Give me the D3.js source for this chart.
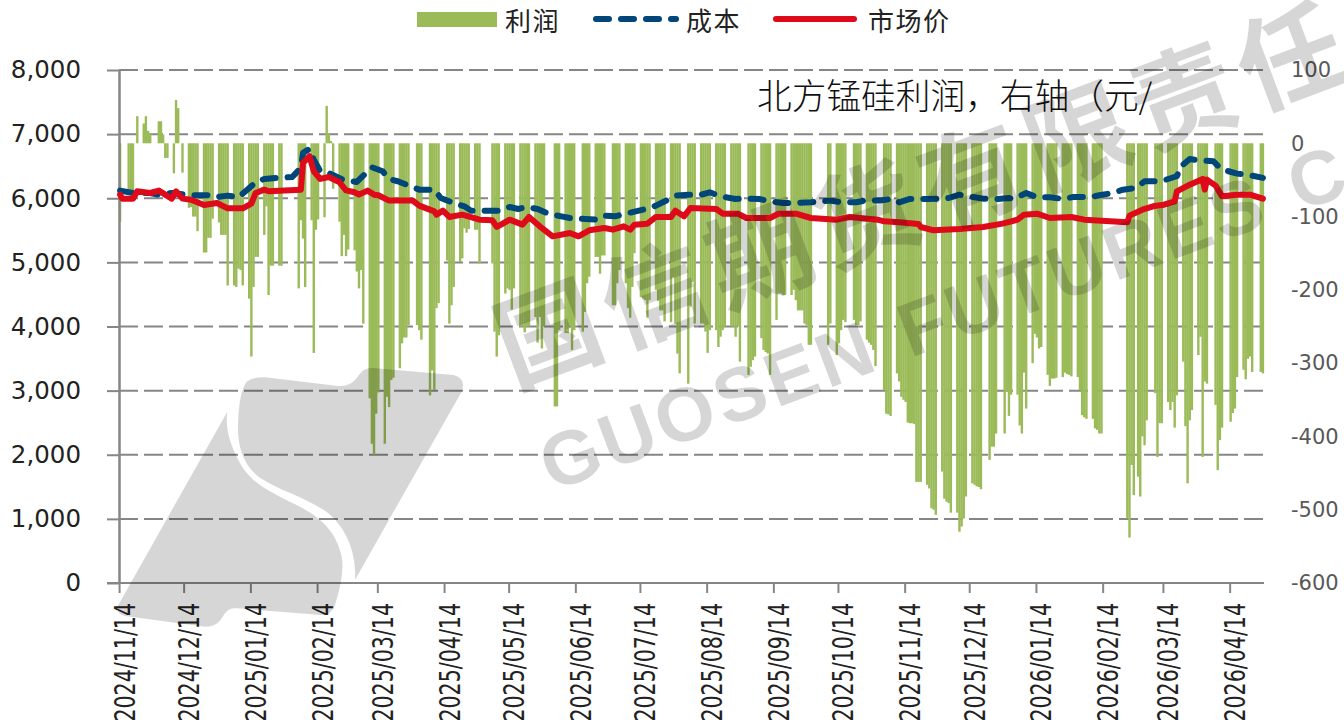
<!DOCTYPE html>
<html>
<head>
<meta charset="utf-8">
<script src="https://cdn.jsdelivr.net/npm/d3@7"></script>
<style>
  body { margin: 0; background: #fff; }
  svg { display: block; }
</style>
</head>
<body>
<script>
const _ = null // no bar that day

const startDate = '2024-11-14'
const tickLabels = ['2024/11/14', '2024/12/14', '2025/01/14', '2025/02/14', '2025/03/14', '2025/04/14',
    '2025/05/14', '2025/06/14', '2025/07/14', '2025/08/14', '2025/09/14', '2025/10/14', '2025/11/14',
    '2025/12/14', '2026/01/14', '2026/02/14', '2026/03/14', '2026/04/14']
const leftTicks = [0, 1000, 2000, 3000, 4000, 5000, 6000, 7000, 8000]
const rightTicks = [-600, -500, -400, -300, -200, -100, 0, 100]

// profit, one entry per calendar day from startDate (first row runs Thu-Sun, then Mon-Sun)
const profit = [
    -107, _, _, _,
    -64, -64, -64, _, 37, _, _,
    27, 37, 17, 14, _, _, _,
    30, 30, 12, -20, -20, _, _,
    -41, 59, 48, _, -40, _, _,
    -88, -87, -100, -100, -120, _, _,
    -149, -149, -129, -129, -103, _, _,
    -108, -125, -125, -125, -194, _, _,
    -194, -196, -171, -173, -194, _, _,
    -212, -291, -196, -155, -155, _, _,
    -125, -86, -207, -167, -167, _, _,
    -167, -167, _, _, _, _, _,
    _, _, -198, -105, -130, -196, _,
    _, -105, -286, -118, -104, _, _,
    -101, 51, 14, 3, -62, _, _,
    -107, -154, -125, -154, -145, _, _,
    -146, -175, -198, -173, -246, _, _,
    -348, -410, -425, -369, -340, _, _,
    -410, -346, -360, -323, -320, _, _,
    -307, -273, -265, -265, -248, _, _,
    _, -248, -255, -268, _, _, _,
    -344, -310, -337, -225, -218, _, _,
    _, -160, -246, -221, -196, _, _,
    -162, -157, -116, -122, -117, _, _,
    -118, -118, -164, _, _, _, _,
    _, -164, -257, -291, -262, _, _,
    -205, -198, -200, -227, -198, _, _,
    -250, -250, -258, -250, -250, _, _,
    -237, -272, -237, -280, -250, _, _,
    _, _, -359, -359, -255, _, _,
    -259, -259, -250, -282, -255, _, _,
    _, -257, -230, -191, -182, _, _,
    -155, -155, -178, -153, -153, _, _,
    _, -221, -221, -191, -173, _, _,
    -191, -225, -238, -196, -150, _, _,
    -210, -212, -214, -238, -214, _, _,
    -200, -215, -228, -228, -243, _, _,
    -244, -183, -246, -287, -314, _, _,
    _, -328, -223, -189, -246, _, _,
    -246, -246, -257, -286, -255, _, _,
    -255, -278, -264, -255, -250, _, _,
    -250, -250, -264, -250, -298, _, _,
    _, -316, -305, -296, -291, _, _,
    -266, -282, -285, -287, -316, _, _,
    -241, -205, -205, -207, -207, _, _,
    -207, -200, -214, -228, -228, -228, -246,
    -248, -275, -275, _, _, _, _,
    _, _, _, -275, -246, _, _,
    -289, -273, -255, -241, -244, _, _,
    _, -241, -248, -248, -243, _, _,
    -268, -272, -275, -282, -304, _, _,
    _, -337, -369, -370, -372, _, _,
    -314, -325, -346, -350, -353, -381, -382,
    -382, -383, -462, -462, -462, _, _,
    -466, -471, -498, -500, -507, _, _,
    -448, -485, -489, -491, -504, _, _,
    -504, -530, -523, -512, -482, _, _,
    -464, -466, -468, -469, -472, _, _,
    _, -432, -414, -414, -396, _, _,
    _, -396, -339, -372, -343, _, _,
    -343, -385, -396, -313, -362, _, _,
    -300, -260, -265, -280, -278, _, _,
    -316, -331, -321, -321, -320, _, _,
    -319, -313, -315, -316, -318, _, _,
    -319, -337, -371, -374, -376, _, _,
    -376, -389, -391, -396, -396, _, _,
    _, _, _, _, _, _, _,
    _, _, -512, -538, -439, -480, _,
    -455, -482, -400, -412, -378, _, _,
    _, -341, -428, -382, -382, _, _,
    -353, -364, -353, -388, -344, _, _,
    -298, -386, -464, -378, -364, _, _,
    -289, -264, -428, -325, -328, _, _,
    _, -357, -446, -405, -388, _, _,
    _, -380, -368, -362, -319, _, _,
    -309, -322, -294, -291, -312, _, _,
    _, -312, -314
]

// line readings, day = days since startDate
const costDays = [0, 6, 14, 18, 24, 33, 41, 44, 50, 55, 60, 63, 67, 73, 80, 84, 85, 88, 90, 93, 97, 104, 110, 117, 122,
    125, 129, 135, 139, 146, 149, 155, 160, 163, 176, 181, 185, 189, 194, 199, 205, 209, 216, 221, 225, 230, 235, 245,
    249, 254, 258, 264, 269, 274, 279, 286, 290, 297, 302, 308, 313, 321, 330, 335, 342, 346, 353, 359, 362, 367, 376,
    380, 385, 390, 397, 401, 408, 413, 415, 417, 421, 426, 432, 438, 443, 451, 455, 461, 466, 472, 476, 482, 486, 491,
    493, 497, 501, 508, 511, 515, 519, 525, 531]
const cost = [6119, 6082, 6082, 6056, 6082, 6046, 6046, 6015, 6041, 6015, 6160, 6249, 6301, 6317, 6332, 6473, 6707, 6769,
    6603, 6421, 6395, 6280, 6254, 6483, 6421, 6301, 6265, 6187, 6134, 6134, 6004, 5926, 5874, 5807, 5807, 5864, 5833,
    5864, 5833, 5760, 5718, 5692, 5677, 5666, 5729, 5718, 5760, 5838, 5885, 5968, 6041, 6056, 6046, 6093, 6030, 5989,
    5994, 5989, 5952, 5926, 5926, 5937, 5963, 5937, 5937, 5963, 5963, 5994, 5937, 5989, 5989, 5994, 6004, 6056, 6015,
    5994, 5989, 6004, 5989, 6020, 6082, 6015, 6015, 5989, 6020, 6020, 6046, 6082, 6134, 6160, 6265, 6265, 6291, 6343,
    6499, 6613, 6592, 6577, 6473, 6421, 6384, 6358, 6317]

const marketDays = [0, 1, 6, 8, 14, 18, 24, 26, 29, 33, 39, 45, 50, 57, 61, 63, 67, 69, 84, 85, 88, 90, 93, 97, 102, 105,
    109, 111, 115, 118, 120, 125, 136, 139, 146, 147, 150, 153, 159, 167, 173, 175, 177, 181, 187, 190, 195, 201, 209,
    213, 218, 225, 229, 234, 237, 239, 245, 249, 256, 258, 262, 265, 277, 280, 287, 291, 302, 306, 314, 321, 333, 339,
    352, 355, 362, 371, 372, 378, 390, 401, 410, 417, 420, 426, 432, 442, 448, 468, 469, 475, 480, 485, 490, 491, 497,
    503, 504, 505, 509, 512, 519, 525, 531]
const market = [6056, 5994, 5994, 6108, 6082, 6119, 5994, 6108, 5994, 5978, 5895, 5926, 5843, 5843, 5916, 6082, 6134, 6108,
    6134, 6551, 6655, 6421, 6301, 6332, 6249, 6124, 6093, 6056, 6119, 6056, 6046, 5963, 5963, 5885, 5796, 5744, 5807,
    5708, 5744, 5666, 5656, 5552, 5588, 5666, 5588, 5708, 5562, 5406, 5458, 5406, 5500, 5536, 5510, 5562, 5510, 5588,
    5604, 5708, 5708, 5807, 5718, 5848, 5833, 5760, 5760, 5692, 5692, 5760, 5760, 5692, 5666, 5708, 5666, 5640, 5625,
    5599, 5552, 5500, 5521, 5552, 5604, 5666, 5744, 5760, 5692, 5708, 5666, 5625, 5729, 5822, 5874, 5900, 5952, 6108,
    6212, 6301, 6134, 6290, 6197, 6030, 6056, 6056, 5994]

const legendNames = ['利润', '成本', '市场价']

const green = '#9BBB59'
const navy = '#004678'
const red = '#DE0A1A'
const gridGray = '#868686'
const cjk = '"Noto Sans CJK SC", sans-serif'
const latin = '"DejaVu Sans", sans-serif'

const margin = {left: 119, right: 1264, top: 70, bottom: 583}

const svg = d3.select('body').append('svg')
    .attr('width', 1344)
    .attr('height', 726)

const start = new Date(startDate + 'T00:00:00Z')
const dayDate = i => d3.utcDay.offset(start, i)

const x = d3.scaleUtc()
    .domain([d3.utcHour.offset(start, -12), d3.utcHour.offset(dayDate(532), -12)])
    .range([margin.left, margin.right])

const yLeft = d3.scaleLinear().domain([0, 8000]).range([margin.bottom, margin.top])
const yRight = d3.scaleLinear().domain([-600, 100]).range([margin.bottom, margin.top])

// gridlines sit behind the bars
svg.append('g').attr('class', 'grid')
    .selectAll('line')
    .data(leftTicks.filter(d => d > 0))
    .join('line')
    .attr('x1', margin.left)
    .attr('x2', margin.right)
    .attr('y1', d => yLeft(d))
    .attr('y2', d => yLeft(d))
    .attr('stroke', gridGray)
    .attr('stroke-width', 2)
    .attr('stroke-dasharray', '19 6')

// profit bars, right axis
const barDays = profit.map((v, i) => ({day: dayDate(i), v})).filter(d => d.v !== null)
svg.append('g').attr('class', 'bars')
    .selectAll('rect')
    .data(barDays)
    .join('rect')
    .attr('x', d => x(d.day) - 1.2)
    .attr('width', 2.4)
    .attr('y', d => Math.min(yRight(0), yRight(d.v)))
    .attr('height', d => Math.abs(yRight(d.v) - yRight(0)))
    .attr('fill', green)

// left axis
const leftAxis = svg.append('g')
    .attr('transform', `translate(${margin.left},0)`)
    .call(d3.axisLeft(yLeft).tickValues(leftTicks).tickFormat(d3.format(',')).tickSize(12).tickSizeOuter(0).tickPadding(26))
leftAxis.selectAll('line').attr('stroke', gridGray).attr('stroke-width', 2)
leftAxis.select('.domain').attr('stroke', gridGray).attr('stroke-width', 2.5)
leftAxis.selectAll('text')
    .attr('font-family', latin)
    .attr('font-size', 24.5)
    .attr('fill', '#222')

// right axis has labels only
const rightAxis = svg.append('g')
    .attr('transform', `translate(1291,0)`)
    .call(d3.axisRight(yRight).tickValues(rightTicks).tickSize(0).tickPadding(0).tickFormat(d => d3.format('d')(d).replace('−', '-')))
rightAxis.select('.domain').remove()
rightAxis.selectAll('text')
    .attr('font-family', latin)
    .attr('font-size', 21)
    .attr('fill', '#595959')

// bottom axis
const bottomAxis = svg.append('g')
    .attr('transform', `translate(-1,${margin.bottom})`)
    .call(d3.axisBottom(x)
        .tickValues(tickLabels.map(d => new Date(d.replace(/\//g, '-') + 'T00:00:00Z')))
        .tickFormat((d, i) => tickLabels[i])
        .tickSize(10)
        .tickSizeOuter(0))
bottomAxis.select('.domain').remove()
bottomAxis.selectAll('line').attr('stroke', gridGray).attr('stroke-width', 2)
bottomAxis.selectAll('text')
    .attr('font-family', latin)
    .attr('font-size', 29)
    .attr('fill', '#222')
    .attr('text-anchor', 'end')
    .attr('dy', 0)
    .attr('y', 0)
    .attr('transform', 'translate(15,20) rotate(-90) scale(0.71,1)')

svg.append('line')
    .attr('x1', 107)
    .attr('x2', margin.right)
    .attr('y1', margin.bottom)
    .attr('y2', margin.bottom)
    .attr('stroke', gridGray)
    .attr('stroke-width', 2)

// lines
const line = d3.line()
    .x(d => x(dayDate(d[0])))
    .y(d => yLeft(d[1]))

svg.append('path')
    .attr('class', 'cost')
    .attr('d', line(costDays.map((d, i) => [d, cost[i]])))
    .attr('fill', 'none')
    .attr('stroke', navy)
    .attr('stroke-width', 6)
    .attr('stroke-linecap', 'round')
    .attr('stroke-linejoin', 'round')
    .attr('stroke-dasharray', '13 12')

svg.append('path')
    .attr('class', 'market')
    .attr('d', line(marketDays.map((d, i) => [d, market[i]])))
    .attr('fill', 'none')
    .attr('stroke', red)
    .attr('stroke-width', 6)
    .attr('stroke-linecap', 'round')
    .attr('stroke-linejoin', 'round')

// legend
const legend = svg.append('g').attr('class', 'legend')
legend.append('rect').attr('x', 417).attr('y', 12).attr('width', 80).attr('height', 15).attr('fill', green)
legend.append('line').attr('x1', 596).attr('x2', 676).attr('y1', 19).attr('y2', 19)
    .attr('stroke', navy).attr('stroke-width', 6).attr('stroke-linecap', 'round').attr('stroke-dasharray', '13 12')
legend.append('line').attr('x1', 776).attr('x2', 854).attr('y1', 19).attr('y2', 19)
    .attr('stroke', red).attr('stroke-width', 6).attr('stroke-linecap', 'round')
legend.selectAll('text')
    .data(legendNames)
    .join('text')
    .attr('x', (d, i) => [505, 686, 868][i])
    .attr('y', 31)
    .attr('font-family', cjk)
    .attr('font-size', 26)
    .attr('letter-spacing', 1.5)
    .attr('fill', '#222')
    .text(d => d)

svg.append('text')
    .attr('x', 757)
    .attr('y', 109)
    .attr('font-family', cjk)
    .attr('font-weight', 300)
    .attr('font-size', 34.7)
    .attr('fill', '#111')
    .text('北方锰硅利润，右轴（元/')

// watermark over everything
const wm = svg.append('g').attr('class', 'watermark').attr('fill', '#000').attr('fill-opacity', 0.16)

wm.append('g')
    .attr('transform', 'translate(90,360) scale(0.3333)')
    .selectAll('path')
    .data([
        'M412 155 L85 735 Q78 762 105 768 L345 800 Q375 800 390 782 L405 760 Q418 742 440 745 L695 765 Q725 765 735 735 Q765 640 755 590 C740 520 700 475 620 435 C540 395 480 370 445 300 C420 250 405 205 412 155 Z',
        'M470 65 Q490 50 525 52 L745 78 Q775 80 795 60 L815 35 Q830 22 850 24 L1090 45 Q1130 55 1115 95 L795 660 C800 590 775 510 715 460 C650 410 570 395 505 350 C450 305 440 240 445 170 C448 125 455 85 470 65 Z'
    ])
    .join('path')
    .attr('d', d => d)

wm.append('text')
    .attr('transform', 'translate(513,388) rotate(-20.5)')
    .attr('font-family', cjk)
    .attr('font-weight', 700)
    .attr('font-size', 104)
    .attr('letter-spacing', 9)
    .text('国信期货有限责任公司')

wm.append('text')
    .attr('transform', 'translate(552,492) rotate(-20.5)')
    .attr('font-family', '"Liberation Sans", sans-serif')
    .attr('font-weight', 700)
    .attr('font-size', 76)
    .attr('letter-spacing', 4)
    .attr('word-spacing', 4)
    .text('GUOSEN FUTURES CO')
</script>
</body>
</html>
